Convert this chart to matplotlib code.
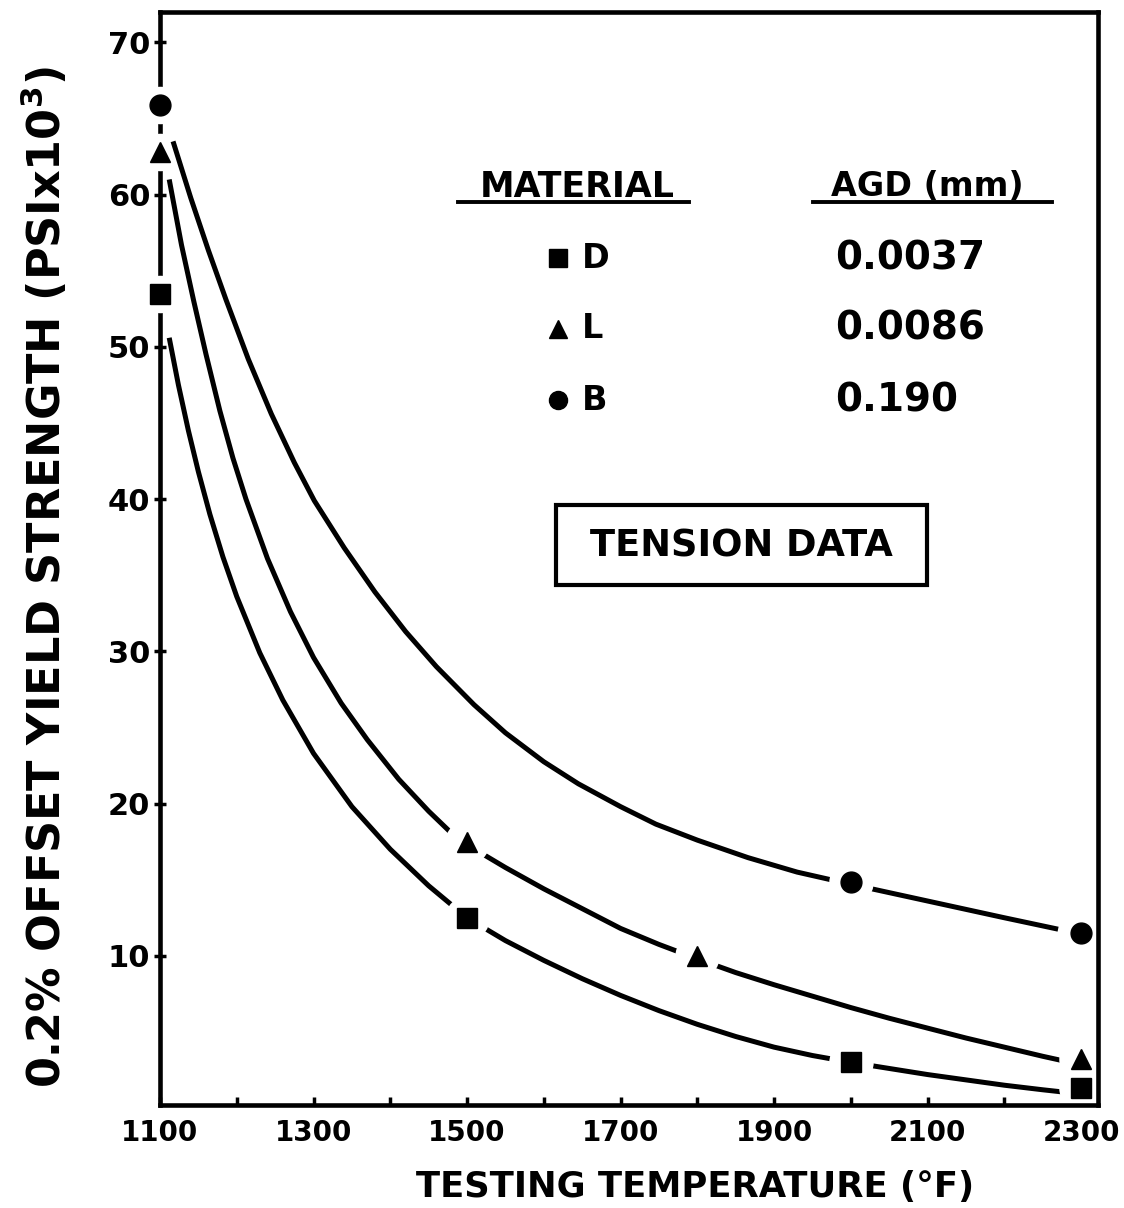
import matplotlib
matplotlib.use('Agg')
import matplotlib.pyplot as plt
from matplotlib.patches import Rectangle
from matplotlib.lines import Line2D

# test points (deg F, ksi)
d_temp = [1100, 1500, 2000, 2300]
d_ys = [53.5, 12.5, 3.0, 1.3]
l_temp = [1100, 1500, 1800, 2300]
l_ys = [62.8, 17.5, 10.0, 3.2]
b_temp = [1100, 2000, 2300]
b_ys = [65.9, 14.85, 11.5]

# hand drawn curves
d_curve_x = [1112, 1124, 1137, 1150, 1165, 1182, 1200, 1230, 1260, 1300, 1350, 1400, 1450, 1500,
             1550, 1600, 1650, 1700, 1750, 1800, 1850, 1900, 1950, 2000, 2050, 2100, 2150, 2200, 2250, 2277]
d_curve_y = [50.6, 47.5, 44.5, 41.8, 39.0, 36.2, 33.6, 29.9, 26.8, 23.3, 19.8, 17.0, 14.6, 12.5,
             11.0, 9.7, 8.5, 7.4, 6.4, 5.5, 4.7, 4.0, 3.45, 3.0, 2.6, 2.2, 1.85, 1.5, 1.2, 1.05]
l_curve_x = [1112, 1128, 1144, 1160, 1178, 1195, 1212, 1240, 1270, 1300, 1336, 1370, 1411, 1450, 1483, 1500,
             1550, 1600, 1650, 1700, 1750, 1800, 1850, 1900, 1950, 2000, 2050, 2100, 2150, 2200, 2250, 2277]
l_curve_y = [61.0, 56.7, 53.0, 49.5, 45.8, 42.7, 40.0, 36.1, 32.6, 29.6, 26.6, 24.2, 21.6, 19.5, 17.9, 17.3,
             15.8, 14.4, 13.1, 11.8, 10.75, 9.8, 8.9, 8.1, 7.35, 6.6, 5.9, 5.25, 4.6, 4.0, 3.4, 3.1]
b_curve_x = [1117, 1140, 1163, 1186, 1215, 1245, 1275, 1301, 1340, 1380, 1420, 1460, 1509, 1550, 1600, 1645,
             1700, 1746, 1800, 1866, 1930, 2000, 2050, 2100, 2150, 2200, 2270]
b_curve_y = [63.5, 59.8, 56.35, 53.1, 49.2, 45.6, 42.4, 39.9, 36.8, 33.9, 31.3, 29.0, 26.5, 24.65, 22.75, 21.3,
             19.8, 18.65, 17.6, 16.45, 15.5, 14.7, 14.15, 13.6, 13.05, 12.5, 11.75]

materials = ['D', 'L', 'B']
agd_mm = ['0.0037', '0.0086', '0.190']
symbols = ['s', '^', 'o']

x_major = [1100, 1300, 1500, 1700, 1900, 2100, 2300]
x_minor = [1200, 1400, 1600, 1800, 2000, 2200]
y_major = [10, 20, 30, 40, 50, 60, 70]

plt.rcParams['font.family'] = ['DejaVu Sans']
plt.rcParams['font.weight'] = 'bold'

W, H = 1124, 1208
def fx(px):
    return px / W
def fy(py):
    return 1 - py / H

fig = plt.figure(figsize=(W / 100, H / 100), dpi=100)
ax = fig.add_axes([fx(160), fy(1105), fx(1098) - fx(160), fy(12) - fy(1105)])

lw = 3.6
for cx, cy in [(d_curve_x, d_curve_y), (l_curve_x, l_curve_y), (b_curve_x, b_curve_y)]:
    ax.plot(cx, cy, color='black', lw=lw, zorder=2.5, solid_capstyle='butt', solid_joinstyle='round')

for xs, ys, m in [(d_temp, d_ys, 's'), (l_temp, l_ys, '^'), (b_temp, b_ys, 'o')]:
    for x, y in zip(xs, ys):
        # white halo gives the broken-line look around each point
        if x == 1100:
            ax.plot([x], [y], marker='o', ms=27, color='white', mec='none', zorder=1.5, clip_on=False)
        else:
            ax.plot([x], [y], marker='o', ms=32, color='white', mec='none', zorder=3, clip_on=False)
        ax.plot([x], [y], marker=m, ms=15, color='black', mec='black', zorder=4, clip_on=False)

ax.set_xlim(1100, 2322)
ax.set_ylim(0.2, 72)
ax.set_xticks(x_major)
ax.set_xticks(x_minor, minor=True)
ax.set_yticks(y_major)
ax.set_xticklabels([str(v) for v in x_major])
ax.set_yticklabels([str(v) for v in y_major])
ax.tick_params(axis='x', which='both', direction='in', length=6, width=2.5, labelsize=20, pad=10)
ax.tick_params(axis='y', direction='inout', length=8, width=2.5, labelsize=22, pad=3)

for name, sp in ax.spines.items():
    sp.set_linewidth(3.3)
    sp.set_zorder(1 if name == 'left' else 5)

fig.text(fx(695), fy(1187), 'TESTING TEMPERATURE (\u00b0F)', ha='center', va='center', fontsize=25.5, fontweight='bold')
fig.text(fx(45), fy(577), '0.2% OFFSET YIELD STRENGTH (PSIx10$^{\\mathbf{3}}$)', rotation=90,
         ha='center', va='center', fontsize=32, fontweight='bold')

# legend table
fig.text(fx(577), fy(187), 'MATERIAL', ha='center', va='center', fontsize=25)
fig.text(fx(927), fy(187), 'AGD (mm)', ha='center', va='center', fontsize=24)
fig.add_artist(Line2D([fx(458), fx(689)], [fy(202), fy(202)], color='black', lw=2.8))
fig.add_artist(Line2D([fx(813), fx(1052)], [fy(202), fy(202)], color='black', lw=2.8))
for i in range(len(materials)):
    yy = 258 + i * 71
    fig.add_artist(Line2D([fx(558)], [fy(yy)], marker=symbols[i], ms=13, color='black', lw=0))
    fig.text(fx(582), fy(yy), materials[i], ha='left', va='center', fontsize=24)
    fig.text(fx(835), fy(yy), agd_mm[i], ha='left', va='center', fontsize=28)

fig.add_artist(Rectangle((fx(556), fy(585)), fx(927) - fx(556), fy(505) - fy(585),
                         fill=False, ec='black', lw=3, transform=fig.transFigure))
fig.text(fx(741), fy(546), 'TENSION DATA', ha='center', va='center', fontsize=26.5)

plt.savefig('out.png', dpi=100)
